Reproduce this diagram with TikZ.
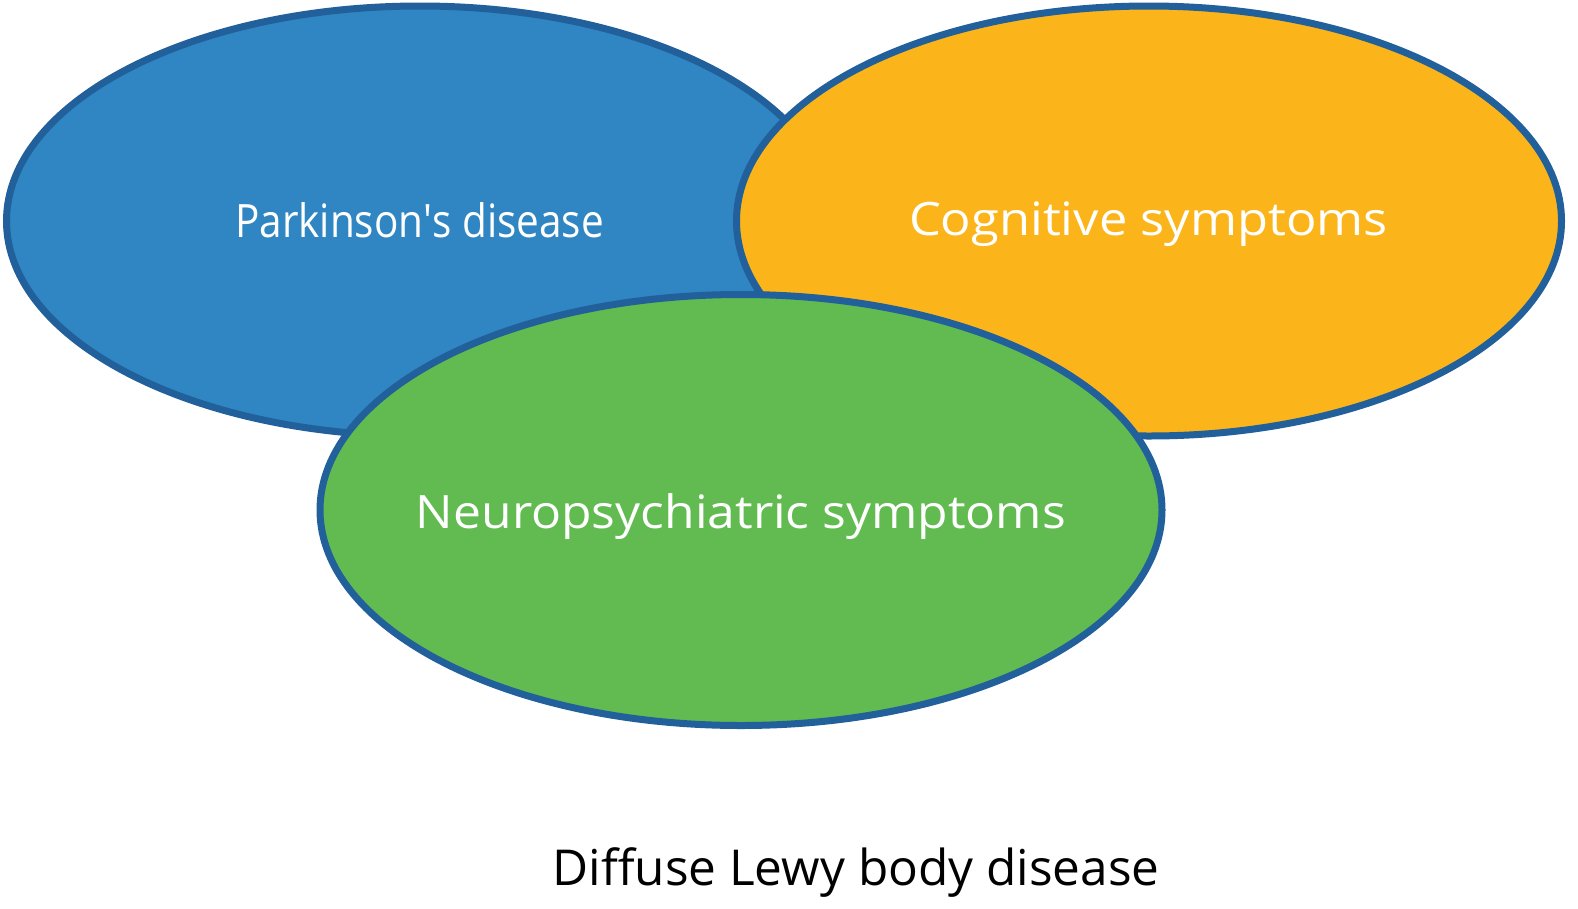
\documentclass[tikz,border=0pt]{standalone}
\usepackage{fontspec}
\setmainfont{Open Sans}
\usetikzlibrary{shapes.geometric}
\definecolor{edgeblue}{HTML}{21609A}
\definecolor{pdblue}{HTML}{3085C3}
\definecolor{cogorange}{HTML}{FBB51A}
\definecolor{neugreen}{HTML}{62BB50}
\tikzset{
  blob/.style={ellipse, draw=edgeblue, line width=7pt, inner sep=0pt},
  inlabel/.style={anchor=base, text=white, font=\fontsize{46}{50}\selectfont, inner sep=0pt},
}
\begin{document}
\begin{tikzpicture}[x=1pt,y=-1pt]
\useasboundingbox (0,0) rectangle (1578,908);
\node[blob, fill=pdblue, minimum width=827pt, minimum height=430pt] (pd) at (420,221) {};
\node[blob, fill=cogorange, minimum width=825pt, minimum height=430pt] (cog) at (1149,221) {};
\node[blob, fill=neugreen, minimum width=842pt, minimum height=431pt] (neu) at (741,510) {};
\node[inlabel] (pdl) at (419.5,237) {\scalebox{0.88}[1]{Parkinson\textquotesingle s disease}};
\node[inlabel] (cogl) at (1148.5,235) {\scalebox{1.10}[1]{Cognitive symptoms}};
\node[inlabel] (neul) at (741,528) {\scalebox{1.083}[1]{Neuropsychiatric symptoms}};
\node[anchor=base, inner sep=0pt, font=\fontsize{49.5}{54}\selectfont] (dlb) at (856,885) {Diffuse Lewy body disease};
\end{tikzpicture}
\end{document}
